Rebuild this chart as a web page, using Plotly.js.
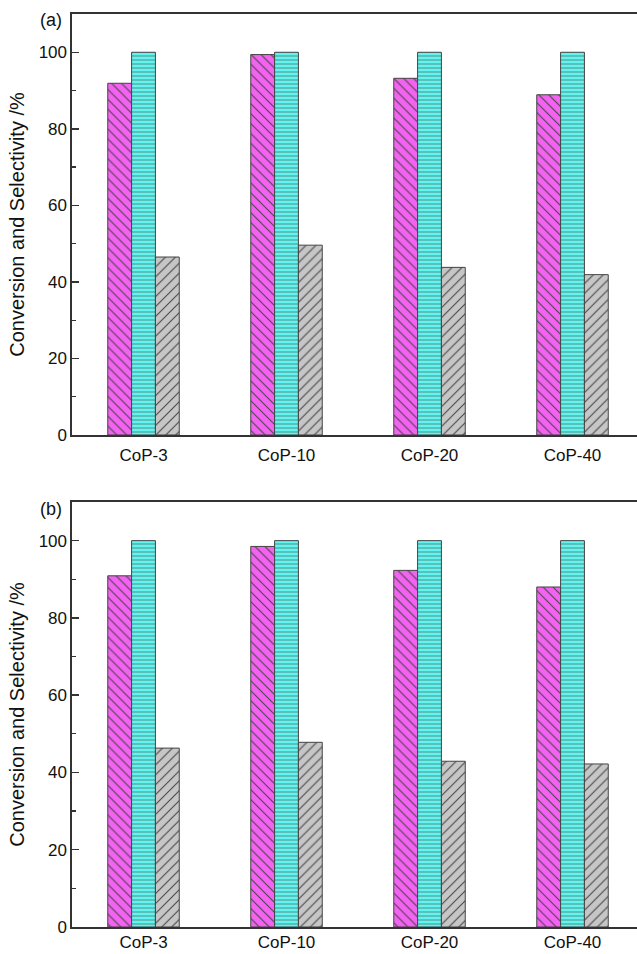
<!DOCTYPE html>
<html>
<head>
<meta charset="utf-8">
<script src="https://cdn.plot.ly/plotly-3.0.1.min.js"></script>
<style>html,body{margin:0;padding:0;background:#fff;overflow:hidden;width:637px;height:954px;}#chart{width:645px;height:954px;}</style>
</head>
<body>
<div id="chart"></div>
<script>
const categories = ["CoP-3", "CoP-10", "CoP-20", "CoP-40"];
// Panel (a)
const aConversion = [91.9, 99.4, 93.2, 88.9];
const aSelectivity = [100, 100, 100, 100];
const aYield = [46.5, 49.6, 43.8, 41.9];
// Panel (b)
const bConversion = [90.9, 98.5, 92.3, 88.0];
const bSelectivity = [100, 100, 100, 100];
const bYield = [46.3, 47.8, 42.9, 42.2];
const panelLabels = ["(a)", "(b)"];
const yTitle = "Conversion and Selectivity /%";

const styles = [
  {color: "#f462f2", shape: "\\", size: 7},
  {color: "#62f4ee", shape: "-", size: 4},
  {color: "#c6c6c6", shape: "/", size: 7}
];

function bars(vals, xa, ya) {
  return vals.map((v, i) => ({
    type: "bar", x: categories, y: v, xaxis: xa, yaxis: ya, showlegend: false,
    marker: {
      color: styles[i].color,
      line: {color: "#444", width: 1},
      pattern: {shape: styles[i].shape, fgcolor: "#444", bgcolor: styles[i].color, fillmode: "replace",
        size: styles[i].size, solidity: 0.15}
    }
  }));
}

const data = [
  ...bars([aConversion, aSelectivity, aYield], "x", "y"),
  ...bars([bConversion, bSelectivity, bYield], "x2", "y2")
];

const fam = "Liberation Sans, Arial, sans-serif";
const font = {family: fam, size: 17, color: "#111"};
function xa(anchor, standoff) {
  return {anchor: anchor, range: [-0.5, 3.5], showline: true, mirror: true, linecolor: "#333", linewidth: 1.6,
    ticks: "", ticklabelstandoff: standoff, tickfont: {family: fam, size: 17, color: "#111"}, showgrid: false, zeroline: false, fixedrange: true};
}
function ya(anchor, domain) {
  return {anchor: anchor, domain: domain, range: [0, 110], tickvals: [0, 20, 40, 60, 80, 100],
    showline: true, linecolor: "#333", linewidth: 1.6, ticks: "inside", ticklen: 7, tickcolor: "#333", tickwidth: 1.5,
    minor: {tickvals: [10, 30, 50, 70, 90], ticks: "inside", ticklen: 4, tickcolor: "#333", tickwidth: 1.2},
    showgrid: false, zeroline: false, tickfont: {family: fam, size: 17, color: "#111"},
    title: {text: yTitle, font: {family: fam, size: 20, color: "#111"}, standoff: 8}};
}

const layout = {
  width: 645, height: 954,
  margin: {l: 72, r: 1, t: 14, b: 27},
  paper_bgcolor: "#fff", plot_bgcolor: "#fff",
  font: font,
  barmode: "group", bargap: 0.5, bargroupgap: 0,
  xaxis: xa("y", 4),
  yaxis: ya("x", [0.5389, 1]),
  xaxis2: xa("y2", -1),
  yaxis2: ya("x2", [0, 0.4655]),
  annotations: [
    {text: panelLabels[0], xref: "paper", yref: "paper", x: -0.014, y: 0.993, xanchor: "right", yanchor: "middle", showarrow: false, font: {family: fam, size: 18, color: "#111"}},
    {text: panelLabels[1], xref: "paper", yref: "paper", x: -0.014, y: 0.4575, xanchor: "right", yanchor: "middle", showarrow: false, font: {family: fam, size: 18, color: "#111"}}
  ]
};

Plotly.newPlot("chart", data, layout, {displayModeBar: false, staticPlot: true});
</script>
</body>
</html>
